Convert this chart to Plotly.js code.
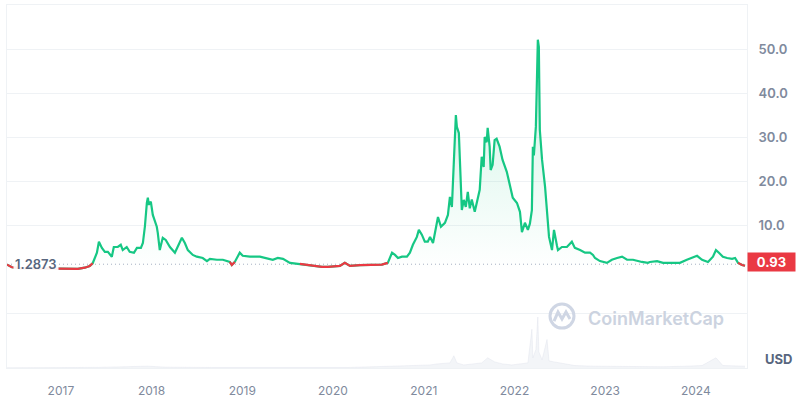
<!DOCTYPE html>
<html>
<head>
<meta charset="utf-8">
<script src="https://cdn.plot.ly/plotly-3.0.1.min.js"></script>
<style>html,body{margin:0;padding:0;background:#fff;}#chart{width:800px;height:400px;}</style>
</head>
<body>
<div id="chart"></div>
<script>
const dates = ['2016-05-29','2016-06-18','2016-07-20','2016-08-29','2016-10-08','2016-11-18','2017-01-09','2017-02-06','2017-03-10','2017-04-07','2017-04-27','2017-05-09','2017-05-26','2017-06-03','2017-06-15','2017-06-27','2017-07-09','2017-07-25','2017-08-02','2017-08-18','2017-08-30','2017-09-07','2017-09-23','2017-10-05','2017-10-22','2017-11-03','2017-11-19','2017-11-27','2017-12-05','2017-12-13','2017-12-17','2017-12-21','2017-12-29','2018-01-06','2018-01-22','2018-01-26','2018-02-03','2018-02-15','2018-02-27','2018-03-16','2018-04-05','2018-05-03','2018-05-15','2018-05-27','2018-06-16','2018-07-02','2018-07-26','2018-08-12','2018-08-24','2018-09-21','2018-10-15','2018-11-12','2018-11-20','2018-12-02','2018-12-22','2019-01-03','2019-02-01','2019-03-13','2019-04-10','2019-05-04','2019-05-24','2019-06-14','2019-07-12','2019-08-21','2019-10-12','2019-11-18','2019-12-12','2020-01-29','2020-02-18','2020-03-10','2020-04-19','2020-06-10','2020-07-16','2020-08-09','2020-08-26','2020-09-07','2020-09-19','2020-10-05','2020-10-25','2020-11-06','2020-11-18','2020-12-04','2020-12-12','2020-12-24','2021-01-05','2021-01-17','2021-01-26','2021-02-07','2021-02-23','2021-02-27','2021-03-11','2021-03-27','2021-04-08','2021-04-16','2021-04-24','2021-05-02','2021-05-10','2021-05-14','2021-05-22','2021-06-03','2021-06-11','2021-06-19','2021-06-27','2021-07-05','2021-07-13','2021-07-25','2021-08-06','2021-08-14','2021-08-22','2021-08-30','2021-09-03','2021-09-11','2021-09-15','2021-09-23','2021-09-27','2021-10-05','2021-10-13','2021-10-21','2021-11-02','2021-11-14','2021-12-01','2021-12-09','2021-12-13','2021-12-21','2021-12-25','2022-01-11','2022-01-23','2022-01-31','2022-02-12','2022-02-24','2022-03-04','2022-03-12','2022-03-16','2022-03-20','2022-03-28','2022-04-05','2022-04-09','2022-04-13','2022-04-22','2022-05-04','2022-05-12','2022-05-20','2022-06-01','2022-06-09','2022-06-21','2022-06-25','2022-07-11','2022-07-31','2022-08-20','2022-09-01','2022-09-22','2022-10-12','2022-11-01','2022-11-13','2022-11-21','2022-12-11','2023-01-08','2023-01-28','2023-02-18','2023-03-10','2023-03-30','2023-04-23','2023-05-29','2023-06-22','2023-06-30','2023-07-29','2023-08-22','2023-10-01','2023-10-29','2023-11-26','2023-12-17','2024-01-06','2024-01-26','2024-02-19','2024-03-10','2024-03-22','2024-04-03','2024-04-19','2024-05-06','2024-05-26','2024-06-07','2024-06-19','2024-07-05','2024-07-17'];

const prices = [1.2,0.6,0.4,0.35,0.3,0.25,0.2,0.2,0.25,0.5,0.9,1.5,3.9,6.4,5.0,4.1,4.1,3.0,5.2,5.2,5.7,4.5,5.2,4.1,3.9,5.0,5.0,6.1,9.8,15.2,16.4,14.8,15.5,12.5,9.8,8.4,4.5,7.3,6.8,5.2,3.9,7.3,6.1,4.5,3.4,3.0,2.7,2.0,2.5,2.3,2.3,1.8,1.1,1.8,3.9,3.2,3.0,3.0,2.7,2.3,2.7,2.5,1.6,1.35,0.9,0.7,0.7,0.9,1.6,0.9,1.1,1.1,1.2,1.6,3.9,3.4,2.7,3.0,3.0,3.9,5.7,7.5,9.1,8.0,6.4,6.4,7.5,6.1,10.2,12.0,9.8,10.7,12.5,16.6,14.3,26.6,35.2,32.5,31.1,13.6,15.9,14.3,17.7,14.0,16.0,13.2,15.9,18.2,25.7,23.4,30.2,29.0,32.3,28.0,22.7,23.9,29.5,29.8,28.0,25.0,22.3,20.5,19.3,17.5,16.4,15.2,13.2,8.6,10.7,9.1,10.5,13.6,28.0,26.0,32.5,52.3,50.7,31.8,25.0,18.9,13.2,7.5,4.5,9.1,5.5,4.5,5.2,5.2,6.4,5.0,4.5,3.9,3.9,3.4,2.7,2.0,1.6,2.3,2.7,3.0,2.3,2.3,1.8,1.6,1.8,2.0,1.6,1.6,1.6,2.3,2.7,3.2,2.3,1.8,3.0,4.5,3.9,3.0,2.7,2.5,2.7,1.6,1.1,0.93];

const volDates = ['2016-05-29','2016-09-01','2017-01-01','2017-06-01','2017-12-15','2018-03-01','2018-09-01','2019-03-01','2019-09-01','2020-03-01','2020-08-26','2020-11-18','2021-01-26','2021-02-23','2021-04-16','2021-05-02','2021-05-14','2021-06-11','2021-08-22','2021-09-15','2021-10-13','2021-11-14','2021-12-21','2022-01-23','2022-02-24','2022-03-12','2022-03-16','2022-03-28','2022-04-05','2022-04-09','2022-04-22','2022-05-12','2022-05-20','2022-06-09','2022-07-31','2022-09-01','2022-11-13','2023-01-28','2023-04-23','2023-08-22','2023-11-26','2024-01-26','2024-03-22','2024-04-19','2024-07-17'];
const volValues = [10,15,15,30,90,40,25,20,20,25,90,120,150,200,250,600,250,150,250,500,300,200,150,200,250,1900,500,900,2500,800,400,1400,350,300,200,120,90,80,60,60,90,120,500,120,90];

const baseline = 1.2873;
const lastPrice = 0.93;
const yTickVals = [-10, 10, 20, 30, 40, 50];
const yTickText = ['', '10.0', '20.0', '30.0', '40.0', '50.0'];
const xTickVals = ['2017-01-01','2018-01-01','2019-01-01','2020-01-01','2021-01-01','2022-01-01','2023-01-01','2024-01-01'];
const xTickText = ['2017','2018','2019','2020','2021','2022','2023','2024'];

const GREEN = '#16c784', RED = '#ea3943';
const FONT = 'Inter, "Noto Sans", sans-serif';

// red overlay: points below the baseline plus their neighbours
const redY = prices.map((v, i) => {
  const below = p => p !== undefined && p < baseline;
  return (below(v) || below(prices[i-1]) || below(prices[i+1])) ? v : null;
});

const traces = [
  {x: volDates, y: volValues, yaxis: 'y2', type: 'scatter', mode: 'lines',
   line: {color: 'rgba(210,216,228,0.6)', width: 0.5}, fill: 'tozeroy',
   fillcolor: 'rgba(228,232,240,0.45)', hoverinfo: 'skip'},
  {x: dates, y: prices, type: 'scatter', mode: 'lines',
   line: {color: GREEN, width: 2.2, shape: 'linear'},
   fill: 'tozeroy',
   fillgradient: {type: 'vertical', start: 0, stop: 52,
     colorscale: [[0, 'rgba(22,199,132,0)'], [1, 'rgba(22,199,132,0.22)']]}},
  {x: dates, y: redY, type: 'scatter', mode: 'lines', connectgaps: false,
   line: {color: RED, width: 2.2}}
];

const layout = {
  width: 800, height: 400,
  margin: {l: 7, r: 53, t: 5, b: 32},
  paper_bgcolor: '#ffffff', plot_bgcolor: '#ffffff',
  showlegend: false, hovermode: false,
  font: {family: FONT, color: '#808a9d'},
  xaxis: {type: 'date', range: ['2016-05-29', '2024-07-25'],
    tickvals: xTickVals, ticktext: xTickText, showgrid: false, zeroline: false,
    showline: true, mirror: true, linecolor: '#eff2f5', linewidth: 1,
    ticks: '', ticklabelstandoff: 12,
    tickfont: {family: FONT, size: 12, color: '#808a9d'}},
  yaxis: {side: 'right', range: [-22.3, 60.2], tickvals: yTickVals, ticktext: yTickText,
    showgrid: true, gridcolor: '#eff2f5', gridwidth: 1, zeroline: false,
    showline: true, mirror: true, linecolor: '#eff2f5', linewidth: 1,
    ticks: '', ticklabelstandoff: 8,
    tickfont: {family: FONT, size: 13, color: '#808a9d', weight: 600}},
  yaxis2: {overlaying: 'y', range: [0, 17800], visible: false},
  shapes: [
    {type: 'line', xref: 'paper', x0: 0, x1: 1, yref: 'y', y0: baseline, y1: baseline,
     line: {color: '#a6b0c3', width: 1, dash: '1px,3px'}, layer: 'below'},
    {type: 'circle', xref: 'paper', yref: 'paper', xsizemode: 'pixel', ysizemode: 'pixel',
     xanchor: 0.75, yanchor: 0.143, x0: -12, x1: 12, y0: -12, y1: 12,
     line: {color: '#cfd6e4', width: 3}},
    {type: 'path', xref: 'paper', yref: 'paper', xsizemode: 'pixel', ysizemode: 'pixel',
     xanchor: 0.75, yanchor: 0.143,
     path: 'M -8 -5 L -4 4 L 0 -3 L 4 4 L 8 -3',
     line: {color: '#cfd6e4', width: 3}}
  ],
  annotations: [
    {xref: 'paper', x: 0.008, yref: 'y', y: baseline, xanchor: 'left', yanchor: 'middle',
     text: baseline.toFixed(4), showarrow: false, bgcolor: 'rgba(255,255,255,0.92)', borderpad: 1,
     font: {family: FONT, size: 13, color: '#58667e', weight: 600}},
    {xref: 'paper', x: 1.0, yref: 'y', y: lastPrice, xanchor: 'left', yanchor: 'middle', yshift: 4,
     text: lastPrice.toFixed(2), showarrow: false, bgcolor: RED, width: 45, height: 16, borderpad: 1,
     font: {family: FONT, size: 13, color: '#ffffff', weight: 700}},
    {xref: 'paper', x: 1.043, yref: 'paper', y: 0.025, xanchor: 'center', yanchor: 'middle',
     text: 'USD', showarrow: false,
     font: {family: FONT, size: 13, color: '#58667e', weight: 700}},
    {xref: 'paper', x: 0.7824, yref: 'paper', y: 0.135, xanchor: 'left', yanchor: 'middle',
     text: 'CoinMarketCap', showarrow: false,
     font: {family: FONT, size: 18, color: '#ccd3e0', weight: 600}}
  ]
};

Plotly.newPlot('chart', traces, layout, {displayModeBar: false, staticPlot: true});
</script>
</body>
</html>
